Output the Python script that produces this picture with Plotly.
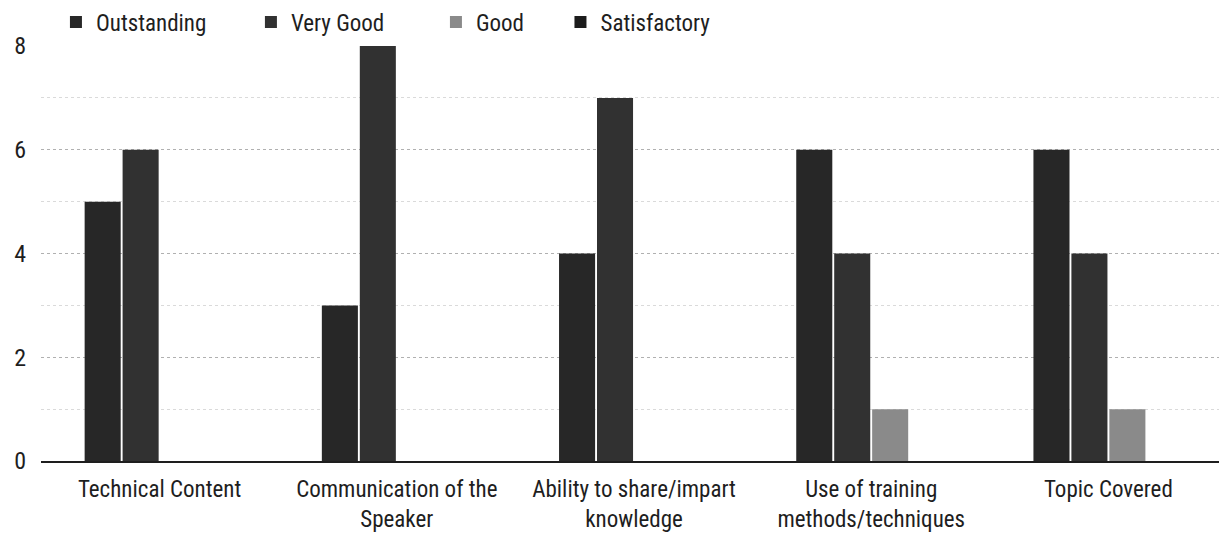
import plotly.graph_objects as go

categories = ["Technical Content", "Communication of the<br>Speaker",
              "Ability to share/impart<br>knowledge", "Use of training<br>methods/techniques",
              "Topic Covered"]
series_names = ["Outstanding", "Very Good", "Good", "Satisfactory"]
outstanding = [5, 3, 4, 6, 6]
very_good = [6, 8, 7, 4, 4]
good = [0, 0, 0, 1, 1]
satisfactory = [0, 0, 0, 0, 0]
y_ticks = [0, 2, 4, 6, 8]

colors = ["#272727", "#313131", "#8a8a8a", "#1c1c1c"]
legend_ids = ["legend", "legend2", "legend3", "legend4"]
legend_x = [0.0126, 0.177, 0.333, 0.438]
font_family = "Liberation Sans Narrow, Arial Narrow, Roboto Condensed, sans-serif"

fig = go.Figure()
for name, vals, col, lg in zip(series_names, [outstanding, very_good, good, satisfactory],
                               colors, legend_ids):
    fig.add_trace(go.Bar(name=name, x=categories, y=vals, marker_color=col,
                         marker_line_width=0, legend=lg))

legend_common = dict(orientation="h", y=1.058, xanchor="left", yanchor="middle",
                     font=dict(size=23), bgcolor="rgba(0,0,0,0)")
legend_layout = {lg: dict(x=lx, **legend_common) for lg, lx in zip(legend_ids, legend_x)}

fig.update_layout(
    width=1227, height=552,
    margin=dict(l=33, r=8, t=38, b=99, autoexpand=False),
    paper_bgcolor="white", plot_bgcolor="white",
    barmode="group", bargap=0.36, bargroupgap=0.05,
    font=dict(family=font_family, size=23, color="#1e1e1e"),
    showlegend=True,
    **legend_layout,
)
fig.update_xaxes(showline=True, linecolor="#1e1e1e", linewidth=2, ticks="",
                 tickfont=dict(size=23), showgrid=False, ticklabelstandoff=6)
fig.update_yaxes(range=[0, 8], tickvals=y_ticks, showline=False, zeroline=False,
                 gridcolor="#b0b0b0", gridwidth=1, griddash="dot",
                 minor=dict(dtick=1, showgrid=True, gridcolor="#dadada", griddash="dot"),
                 tickfont=dict(size=24), ticklabelstandoff=14)

fig.write_html("out.html")
